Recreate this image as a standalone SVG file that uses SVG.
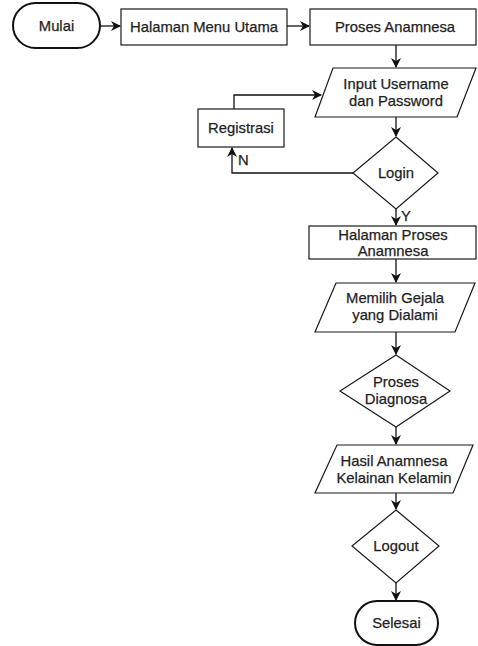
<svg xmlns="http://www.w3.org/2000/svg" width="478" height="646" viewBox="0 0 478 646">
  <style>
    .shape { fill: #ffffff; stroke: #1a1a1a; stroke-width: 1.2; }
    .term { fill: #ffffff; stroke: #111111; stroke-width: 2; }
    .edge { fill: none; stroke: #111111; stroke-width: 1.3; }
    text { font-family: "Liberation Sans", Arial, sans-serif; font-size: 14.8px; fill: #1e1e1e; stroke: #1e1e1e; stroke-width: 0.25; text-anchor: middle; }
    .lbl { text-anchor: start; }
  </style>
  <defs>
    <marker id="arrow" viewBox="0 0 10 10" refX="9" refY="5" markerWidth="10" markerHeight="10" markerUnits="userSpaceOnUse" orient="auto">
      <path d="M0,0 L10,5 L0,10 L3,5 z" fill="#111111"/>
    </marker>
  </defs>
  <rect width="478" height="646" fill="#ffffff"/>

  <g id="connectors">
    <path class="edge" d="M100,26 L120,26" marker-end="url(#arrow)"/>
    <path class="edge" d="M287,26 L309,26" marker-end="url(#arrow)"/>
    <path class="edge" d="M396,45 L396,67" marker-end="url(#arrow)"/>
    <path class="edge" d="M396,117 L396,136" marker-end="url(#arrow)"/>
    <path class="edge" d="M234,109 L234,95 L321,95" marker-end="url(#arrow)"/>
    <path class="edge" d="M353,173 L232,173 L232,148" marker-end="url(#arrow)"/>
    <path class="edge" d="M396,209 L396,225" marker-end="url(#arrow)"/>
    <path class="edge" d="M396,259 L396,282" marker-end="url(#arrow)"/>
    <path class="edge" d="M396,332 L396,354" marker-end="url(#arrow)"/>
    <path class="edge" d="M396,427 L396,444" marker-end="url(#arrow)"/>
    <path class="edge" d="M396,493 L396,509" marker-end="url(#arrow)"/>
    <path class="edge" d="M396,583 L396,600" marker-end="url(#arrow)"/>
    <text class="lbl" x="238" y="165">N</text>
    <text class="lbl" x="401" y="221">Y</text>
  </g>

  <g id="mulai">
    <rect class="term" x="13" y="3" width="87" height="45" rx="22.5" ry="22.5"/>
    <text x="56.5" y="31">Mulai</text>
  </g>

  <g id="halaman-menu-utama">
    <rect class="shape" x="121" y="9" width="166" height="36"/>
    <text x="204" y="31.5">Halaman Menu Utama</text>
  </g>

  <g id="proses-anamnesa">
    <rect class="shape" x="310" y="9" width="166" height="36"/>
    <text x="395" y="31.5">Proses Anamnesa</text>
  </g>

  <g id="input-login">
    <polygon class="shape" points="333,68 476,68 457,117 315,117"/>
    <text x="396" y="89">Input Username</text>
    <text x="396" y="106">dan Password</text>
  </g>

  <g id="registrasi">
    <rect class="shape" x="198" y="109" width="86" height="38"/>
    <text x="241" y="133">Registrasi</text>
  </g>

  <g id="login">
    <polygon class="shape" points="396,137 438,173 396,209 353,173"/>
    <text x="396" y="178">Login</text>
  </g>

  <g id="halaman-proses-anamnesa">
    <rect class="shape" x="309" y="226" width="167" height="33"/>
    <text x="393" y="240">Halaman Proses</text>
    <text x="393" y="256">Anamnesa</text>
  </g>

  <g id="memilih-gejala">
    <polygon class="shape" points="336,283 475,283 455,332 315,332"/>
    <text x="395" y="303">Memilih Gejala</text>
    <text x="395" y="320">yang Dialami</text>
  </g>

  <g id="proses-diagnosa">
    <polygon class="shape" points="396,355 450,391 396,427 340,391"/>
    <text x="396" y="387">Proses</text>
    <text x="396" y="404">Diagnosa</text>
  </g>

  <g id="hasil-anamnesa">
    <polygon class="shape" points="337,445 473,445 453,493 315,493"/>
    <text x="394" y="466">Hasil Anamnesa</text>
    <text x="394" y="483">Kelainan Kelamin</text>
  </g>

  <g id="logout">
    <polygon class="shape" points="396,510 439,546 396,583 352,546"/>
    <text x="396" y="551">Logout</text>
  </g>

  <g id="selesai">
    <rect class="term" x="355" y="601" width="83" height="44" rx="22" ry="22"/>
    <text x="396.5" y="628">Selesai</text>
  </g>
</svg>
